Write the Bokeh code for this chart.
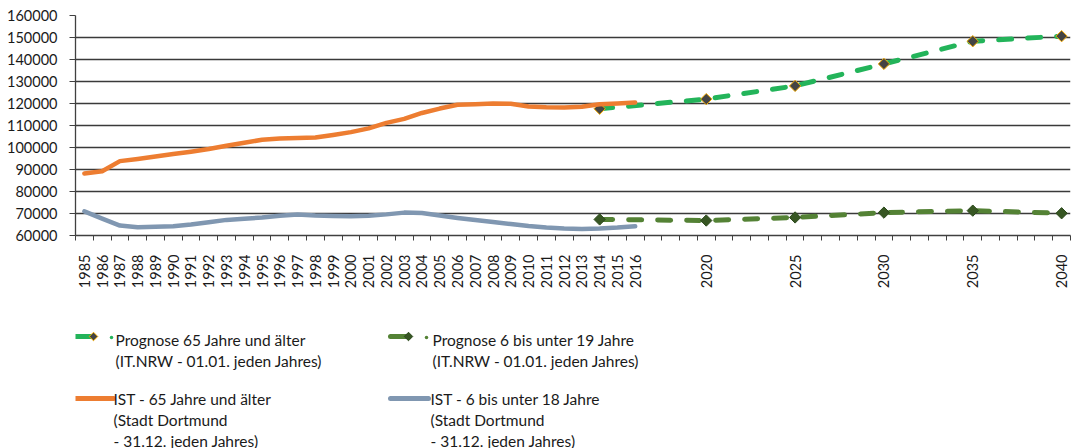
import math
from bokeh.plotting import figure
from bokeh.layouts import column
from bokeh.models import Range1d, FixedTicker, BasicTickFormatter
from bokeh.core.properties import value
from bokeh.embed import file_html
from bokeh.resources import INLINE

# ---------------- data ----------------
ist_years = list(range(1985, 2017))
ist_65 = [88200, 89200, 93800, 94800, 95900, 97000, 98100, 99300, 100800, 102200,
          103500, 104100, 104300, 104500, 105700, 107000, 108700, 111200, 113000, 115700,
          117700, 119400, 119700, 120000, 119900, 118600, 118300, 118200, 118500, 119700,
          120000, 120400]
ist_6_18 = [71000, 67700, 64500, 63800, 64000, 64200, 65000, 66000, 67100, 67600,
            68200, 69000, 69500, 69100, 68900, 68800, 69000, 69600, 70400, 70200,
            69100, 68000, 67000, 66100, 65200, 64300, 63600, 63200, 63000, 63200,
            63600, 64200]
prog_years = [2014, 2020, 2025, 2030, 2035, 2040]
prog_65 = [117600, 122000, 128000, 138000, 148300, 150600]
prog_6_19 = [67300, 66800, 68200, 70400, 71300, 70100]

x_tick_years = list(range(1985, 2017)) + [2020, 2025, 2030, 2035, 2040]
y_ticks = [60000, 70000, 80000, 90000, 100000, 110000, 120000, 130000, 140000, 150000, 160000]

legend_labels = [
    ["Prognose 65 Jahre und älter", "(IT.NRW - 01.01. jeden Jahres)"],
    ["Prognose 6 bis unter 19 Jahre", "(IT.NRW - 01.01. jeden Jahres)"],
    ["IST - 65 Jahre und älter", "(Stadt Dortmund", "- 31.12. jeden Jahres)"],
    ["IST - 6 bis unter 18 Jahre", "(Stadt Dortmund", "- 31.12. jeden Jahres)"],
]

# ---------------- styles ----------------
C_ORANGE = "#ED7D31"
C_BLUE = "#8097B1"
C_GREEN = "#23B45A"
C_DGREEN = "#548235"
C_MARK = "#444444"
C_MARK_EDGE = "#F2A900"
C_MARK2 = "#375623"
C_GRID = "#3a3a3a"
FONT = "Lato"
W = 1073
FRAME_L, FRAME_R = 75, 1070

p = figure(width=W, height=300,
           x_range=Range1d(1984.5, 2040.5), y_range=Range1d(60000, 160000),
           output_backend="svg", toolbar_location=None,
           min_border_left=FRAME_L, min_border_right=W - FRAME_R,
           min_border_top=15, min_border_bottom=65)
p.outline_line_color = None
p.background_fill_color = "white"
p.border_fill_color = "white"

# axes
minor = [1984.5 + k for k in range(57)]
p.xaxis.ticker = FixedTicker(ticks=x_tick_years, minor_ticks=minor)
p.xaxis.major_label_orientation = math.pi / 2
p.xaxis.major_tick_out = 0
p.xaxis.major_tick_in = 0
p.xaxis.minor_tick_out = 5
p.xaxis.minor_tick_in = 0
p.xaxis.minor_tick_line_color = "#404040"
p.xaxis.major_label_standoff = 14
p.xaxis.axis_line_color = "#404040"
p.xaxis.axis_line_width = 1.3

p.yaxis.ticker = FixedTicker(ticks=y_ticks)
p.yaxis.formatter = BasicTickFormatter(use_scientific=False)
p.yaxis.major_tick_out = 6
p.yaxis.major_tick_in = 0
p.yaxis.minor_tick_out = 0
p.yaxis.minor_tick_in = 0
p.yaxis.major_tick_line_color = "#404040"
p.yaxis.axis_line_color = "#404040"
p.yaxis.axis_line_width = 1.3
p.yaxis.major_label_standoff = 12

for ax in (p.xaxis, p.yaxis):
    ax.major_label_text_font = FONT
    ax.major_label_text_font_size = "14.5px"
    ax.major_label_text_color = "#1a1a1a"

p.xgrid.grid_line_color = None
p.ygrid.ticker = FixedTicker(ticks=y_ticks)
p.ygrid.grid_line_color = C_GRID
p.ygrid.grid_line_width = 1.3

# series
p.line(prog_years, prog_65, line_color=C_GREEN, line_width=5, line_dash="13 16", line_cap="round")
p.line(prog_years, prog_6_19, line_color=C_DGREEN, line_width=5, line_dash="13 16", line_cap="round")
p.scatter(prog_years, prog_65, marker="square", angle=math.pi / 4, size=8,
          fill_color=C_MARK, line_color=C_MARK_EDGE, line_width=1)
p.scatter(prog_years, prog_6_19, marker="square", angle=math.pi / 4, size=8,
          fill_color=C_MARK2, line_color="#2c4a1c", line_width=1)
p.line(ist_years, ist_65, line_color=C_ORANGE, line_width=4.5, line_join="round", line_cap="round")
p.line(ist_years, ist_6_18, line_color=C_BLUE, line_width=4.5, line_join="round", line_cap="round")

# ---------------- legend (separate panel, page coordinates) ----------------
lg = figure(width=W, height=148, x_range=Range1d(FRAME_L, FRAME_R), y_range=Range1d(448, 300),
            output_backend="svg", toolbar_location=None,
            x_axis_location=None, y_axis_location=None,
            min_border_left=FRAME_L, min_border_right=W - FRAME_R,
            min_border_top=0, min_border_bottom=0)
lg.outline_line_color = None
lg.xgrid.grid_line_color = None
lg.ygrid.grid_line_color = None

row_glyph_y = [336, 398]
row_text_y = [[339.5, 360.7], [398.5, 419.5, 440.0]]
col_x = [75, 390]

# prognose samples (row 0)
for ci, (lc, mf, me) in enumerate([(C_GREEN, C_MARK, C_MARK_EDGE), (C_DGREEN, C_MARK2, "#2c4a1c")]):
    x0 = col_x[ci]
    lg.line([x0, x0 + 18], [row_glyph_y[0]] * 2, line_color=lc, line_width=5, line_cap="round")
    lg.scatter([x0 + 18], [row_glyph_y[0]], marker="square", angle=math.pi / 4, size=6,
               fill_color=mf, line_color=me, line_width=1)
    lg.scatter([x0 + 36], [row_glyph_y[0] + 1], marker="circle", size=3.5,
               fill_color=lc, line_color=None)
# IST samples (row 1)
for ci, lc in enumerate([C_ORANGE, C_BLUE]):
    x0 = col_x[ci]
    lg.line([x0, x0 + 38], [row_glyph_y[1]] * 2, line_color=lc, line_width=5, line_cap="round")

text_x = [[115, 432], [113, 430]]
for idx, lines in enumerate(legend_labels):
    r, c = idx // 2, idx % 2
    ys = row_text_y[r][:len(lines)]
    lg.text(x=[text_x[r][c]] * len(lines), y=ys, text=lines,
            text_font=value(FONT), text_font_size="15.5px", text_color="#1a1a1a",
            text_align="left", text_baseline="middle")

layout = column(p, lg, spacing=0)
open("out.html", "w").write(file_html(layout, INLINE))
